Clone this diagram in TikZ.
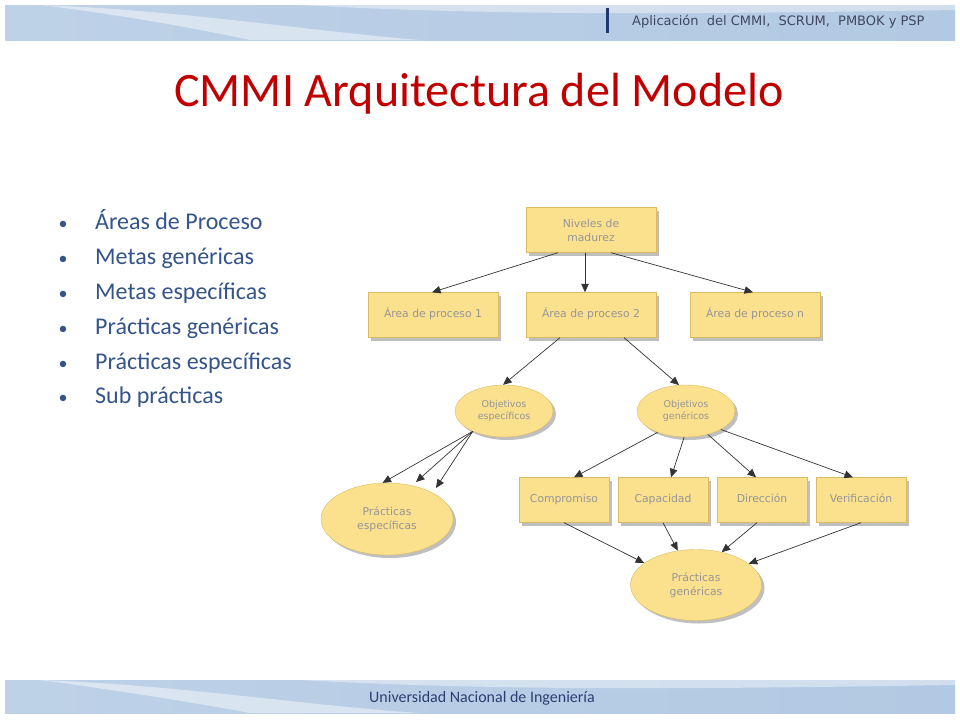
\documentclass[tikz,border=0pt]{standalone}
\usepackage{fontspec}
\setmainfont{Carlito}
\newfontfamily\diagfont{DejaVu Sans}
\usetikzlibrary{shapes.geometric,arrows.meta,shadows}

\definecolor{rosso}{RGB}{192,0,0}
\definecolor{blutesto}{RGB}{52,84,138}
\definecolor{blupiede}{RGB}{43,63,115}
\definecolor{grigiotesta}{RGB}{64,72,96}
\definecolor{giallo}{RGB}{251,224,142}
\definecolor{bordo}{RGB}{220,188,98}
\definecolor{grigio}{RGB}{150,150,150}
\definecolor{banda}{RGB}{178,201,227}
\definecolor{blunotte}{RGB}{31,58,112}

\tikzset{
  scatola/.style={draw=bordo, fill=giallo, minimum height=45pt, inner sep=2pt,
    align=center, text=grigio, font=\diagfont\fontsize{10.8}{14}\selectfont,
    drop shadow={shadow xshift=3pt, shadow yshift=-3pt, fill=black!25, opacity=1}},
  riga/.style={scatola, text height=7.5pt, text depth=3pt},
  ovale/.style={scatola, ellipse, inner sep=0pt},
  freccia/.style={-{Triangle[length=8.5pt,width=7.5pt]}, draw=black!80, line width=0.7pt},
  voce/.style={anchor=base west, inner sep=0pt, text=blutesto, font=\fontsize{24}{28}\selectfont},
  pallino/.style={anchor=base, text=blutesto, font=\fontsize{18}{22}\selectfont}
}

\begin{document}
\begin{tikzpicture}[x=1pt, y=-1pt]

    \useasboundingbox (0,0) rectangle (960,720);

    % Banda in alto
    \shade[left color=banda!85!white, right color=banda] (5,5) rectangle (955,40);
    \fill[white, opacity=0.45] (40,5) .. controls (180,10) and (300,30) .. (420,40)
        -- (250,40) .. controls (180,25) and (100,12) .. (40,5) -- cycle;
    \fill[white, opacity=0.4] (300,5) -- (955,5) -- (955,10)
        .. controls (700,14) and (500,16) .. (300,5) -- cycle;
    \fill[blunotte] (606,8) rectangle (609,33);
    \node[anchor=base west, inner sep=0pt, text=grigiotesta, font=\diagfont\fontsize{13}{14}\selectfont]
        (testata) at (632,25) {Aplicación\ \ del CMMI,\ \ SCRUM,\ \ PMBOK y PSP};

    % Banda in basso
    \shade[left color=banda!85!white, right color=banda] (5,680) rectangle (955,713);
    \fill[white, opacity=0.45] (40,680) .. controls (180,685) and (300,705) .. (420,713)
        -- (250,713) .. controls (180,700) and (100,688) .. (40,680) -- cycle;
    \fill[white, opacity=0.4] (300,680) -- (955,680) -- (955,685)
        .. controls (700,689) and (500,691) .. (300,680) -- cycle;
    \node[anchor=base, text=blupiede, font=\fontsize{16}{18}\selectfont]
        (piede) at (482,702) {Universidad Nacional de Ingeniería};

    % Titolo
    \node[anchor=base, text=rosso, font=\fontsize{48}{54}\selectfont]
        (titolo) at (479,106) {CMMI Arquitectura del Modelo};

    % Elenco puntato
    \node[pallino] at (63,229) {•};
    \node[voce] (v1) at (95,229) {Áreas de Proceso};
    \node[pallino] at (63,264) {•};
    \node[voce] (v2) at (95,264) {Metas genéricas};
    \node[pallino] at (63,299) {•};
    \node[voce] (v3) at (95,299) {Metas específicas};
    \node[pallino] at (63,334) {•};
    \node[voce] (v4) at (95,334) {Prácticas genéricas};
    \node[pallino] at (63,369) {•};
    \node[voce] (v5) at (95,369) {Prácticas específicas};
    \node[pallino] at (63,403) {•};
    \node[voce] (v6) at (95,403) {Sub prácticas};

    % Livelli e aree di processo
    \node[scatola, minimum width=130pt] (niveles) at (591,230) {Niveles de\\madurez};
    \node[riga, minimum width=130pt] (area1) at (433,315) {Área de proceso 1};
    \node[riga, minimum width=130pt] (area2) at (591,315) {Área de proceso 2};
    \node[riga, minimum width=130pt] (arean) at (755,315) {Área de proceso n};

    % Obiettivi
    \node[ovale, minimum width=98pt, minimum height=52pt, font=\diagfont\fontsize{9.5}{12}\selectfont]
        (objesp) at (504,411) {Objetivos\\específicos};
    \node[ovale, minimum width=98pt, minimum height=52pt, font=\diagfont\fontsize{9.5}{12}\selectfont]
        (objgen) at (686,411) {Objetivos\\genéricos};

    % Pratiche e caratteristiche comuni
    \node[ovale, minimum width=132pt, minimum height=72pt] (pracesp) at (387,519) {Prácticas\\específicas};
    \node[riga, minimum width=90pt] (compromiso) at (564,500) {Compromiso};
    \node[riga, minimum width=90pt] (capacidad) at (663,500) {Capacidad};
    \node[riga, minimum width=90pt] (direccion) at (762,500) {Dirección};
    \node[riga, minimum width=90pt] (verificacion) at (861,500) {Verificación};
    \node[ovale, minimum width=131pt, minimum height=71pt] (pracgen) at (696,585) {Prácticas\\genéricas};

    % Punti liberi delle frecce
    \coordinate (pe2) at (416,482);
    \coordinate (pe3) at (436,488);

    % Frecce
    \draw[freccia] ([xshift=-33pt]niveles.south) -- ([xshift=-1pt]area1.north);
    \draw[freccia] ([xshift=-6pt]niveles.south) -- ([xshift=-6pt]area2.north);
    \draw[freccia] ([xshift=20pt]niveles.south) -- ([xshift=-2pt]arean.north);
    \draw[freccia] ([xshift=-31pt]area2.south) -- (objesp.92);
    \draw[freccia] ([xshift=33pt]area2.south) -- (objgen.105);
    \draw[freccia] (objesp.213) -- (pracesp.97);
    \draw[freccia] (objesp.213) -- (pe2);
    \draw[freccia] (objesp.213) -- (pe3);
    \draw[freccia] (objgen.217) -- ([xshift=10pt]compromiso.north);
    \draw[freccia] (objgen.266) -- ([xshift=8pt]capacidad.north);
    \draw[freccia] (objgen.313) -- ([xshift=-6pt]direccion.north);
    \draw[freccia] (objgen.332) -- ([xshift=-8pt]verificacion.north);
    \draw[freccia] (compromiso.south) -- (pracgen.157);
    \draw[freccia] (capacidad.south) -- (pracgen.118);
    \draw[freccia] ([xshift=-5pt]direccion.south) -- (pracgen.52);
    \draw[freccia] (verificacion.south) -- (pracgen.22);

\end{tikzpicture}
\end{document}
